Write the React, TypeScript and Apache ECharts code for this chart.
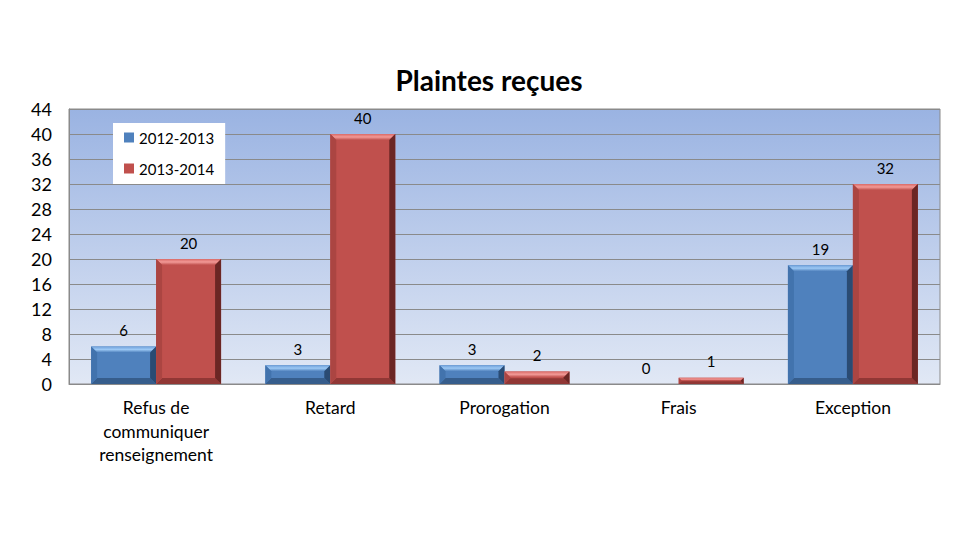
import React, { useEffect, useRef } from "react";
import * as echarts from "echarts";

const categories = ["Refus de\ncommuniquer\nrenseignement", "Retard", "Prorogation", "Frais", "Exception"];
const series2012 = [6, 3, 3, 0, 19];
const series2013 = [20, 40, 2, 1, 32];
const seriesNames = ["2012-2013", "2013-2014"];
const yTicks = { min: 0, max: 44, interval: 4 };

const FONT = "Lato, 'Noto Sans', sans-serif";

const palettes = [
  { base: "#4f81bd", top: "#9cc8f4", topEdge: "#6fa0da", left: "#4273ad", right: "#2a4b73", bottom: "#365d8c" },
  { base: "#c0504d", top: "#f29a97", topEdge: "#d96a67", left: "#ab4542", right: "#6b2624", bottom: "#913735" },
];

function makeRender(seriesIdx: number) {
  return (params: any, api: any) => {
    const ci = api.value(0);
    const v = api.value(1);
    const p0 = api.coord([ci, 0]);
    const p1 = api.coord([ci, v]);
    const band = api.size([1, 0])[0];
    const w = band * 0.373;
    const cx = p0[0];
    const x = seriesIdx === 0 ? cx - w : cx;
    const y = p1[1];
    const h = p0[1] - p1[1];
    const pal = palettes[seriesIdx];
    const children: any[] = [];
    if (h > 0.5) {
      const b = Math.min(6, h / 2.2);
      children.push({
        type: "rect",
        shape: { x, y, width: w, height: h },
        style: { fill: pal.base },
      });
      children.push({
        type: "polygon",
        shape: { points: [[x, y], [x + w, y], [x + w - b, y + b], [x + b, y + b]] },
        style: {
          fill: new echarts.graphic.LinearGradient(0, 0, 0, 1, [
            { offset: 0, color: pal.topEdge },
            { offset: 0.5, color: pal.top },
            { offset: 1, color: pal.base },
          ]),
        },
      });
      children.push({
        type: "polygon",
        shape: { points: [[x, y + h], [x + w, y + h], [x + w - b, y + h - b], [x + b, y + h - b]] },
        style: { fill: pal.bottom },
      });
      children.push({
        type: "polygon",
        shape: { points: [[x, y], [x + b, y + b], [x + b, y + h - b], [x, y + h]] },
        style: { fill: pal.left },
      });
      children.push({
        type: "polygon",
        shape: { points: [[x + w, y], [x + w - b, y + b], [x + w - b, y + h - b], [x + w, y + h]] },
        style: { fill: pal.right },
      });
    }
    children.push({
      type: "text",
      style: {
        text: String(v),
        x: x + w / 2,
        y: y - 9,
        align: "center",
        verticalAlign: "bottom",
        fill: "#000",
        font: `15px ${FONT}`,
      },
    });
    return { type: "group", children };
  };
}

export default function App() {
  const ref = useRef<HTMLDivElement>(null);
  useEffect(() => {
    if (!ref.current) return;
    const chart = echarts.init(ref.current, null, { renderer: "svg" });
    chart.setOption({
      animation: false,
      backgroundColor: "#ffffff",
      title: {
        text: "Plaintes reçues",
        left: 484,
        textAlign: "center",
        top: 61,
        textStyle: { fontFamily: FONT, fontSize: 28, fontWeight: "bold", color: "#000" },
      },
      legend: {
        orient: "vertical",
        left: 113,
        top: 123,
        backgroundColor: "#ffffff",
        padding: [7, 11, 8, 11],
        itemGap: 16,
        itemWidth: 10,
        itemHeight: 10,
        icon: "rect",
        textStyle: { fontFamily: FONT, fontSize: 15, color: "#000" },
        data: seriesNames,
      },
      grid: {
        left: 69,
        right: 36,
        top: 109,
        bottom: 163,
        show: true,
        borderColor: "#8a8a8a",
        borderWidth: 1,
        backgroundColor: new echarts.graphic.LinearGradient(0, 0, 0, 1, [
          { offset: 0, color: "#9ab3e2" },
          { offset: 1, color: "#e1e8f5" },
        ]),
      },
      xAxis: {
        type: "category",
        data: categories,
        axisTick: { show: false },
        axisLine: { lineStyle: { color: "#8a8a8a" } },
        axisLabel: { fontFamily: FONT, fontSize: 17.5, color: "#000", margin: 12, lineHeight: 23.5, interval: 0 },
      },
      yAxis: {
        type: "value",
        min: yTicks.min,
        max: yTicks.max,
        interval: yTicks.interval,
        axisLine: { show: true, lineStyle: { color: "#8a8a8a" } },
        axisTick: { show: false },
        splitLine: { lineStyle: { color: "#8a8a8a", width: 1 } },
        axisLabel: { fontFamily: FONT, fontSize: 18, color: "#000", margin: 17 },
      },
      series: [
        {
          name: seriesNames[0],
          type: "custom",
          itemStyle: { color: palettes[0].base },
          renderItem: makeRender(0),
          data: series2012.map((v, i) => [i, v]),
          encode: { x: 0, y: 1 },
        },
        {
          name: seriesNames[1],
          type: "custom",
          itemStyle: { color: palettes[1].base },
          renderItem: makeRender(1),
          data: series2013.map((v, i) => [i, v]),
          encode: { x: 0, y: 1 },
        },
      ],
    });
    return () => chart.dispose();
  }, []);
  return <div ref={ref} style={{ position: "fixed", left: 0, top: 0, width: 976, height: 547 }} />;
}
